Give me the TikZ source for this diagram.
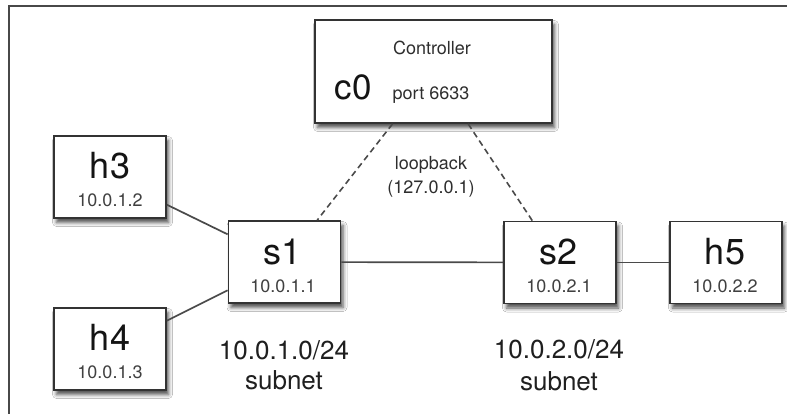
\documentclass[tikz,border=0pt]{standalone}
\usepackage{fontspec}
\setmainfont{TeX Gyre Heros}
\usetikzlibrary{shadows.blur}

\definecolor{edgegray}{HTML}{333333}
\definecolor{linkgray}{HTML}{4A4A4A}
\definecolor{ipgray}{HTML}{404040}
\definecolor{framegray}{HTML}{484848}

\tikzset{
  hostbox/.style={draw=edgegray, line width=1.8pt, fill=white,
    minimum width=112pt, minimum height=82pt, inner sep=0pt,
    blur shadow={shadow xshift=2.5pt, shadow yshift=-4.5pt,
      shadow blur radius=4pt, shadow opacity=70}},
  ctrlbox/.style={hostbox, minimum width=237pt, minimum height=103pt},
  bigname/.style={anchor=base, inner sep=0pt, text=black!92,
    font=\fontsize{36}{36}\selectfont},
  ipaddr/.style={anchor=base, inner sep=0pt, text=ipgray,
    font=\fontsize{18}{18}\selectfont},
  smalltext/.style={anchor=base, inner sep=0pt, text=black!82,
    font=\fontsize{18}{18}\selectfont},
  subnetlbl/.style={anchor=base, inner sep=0pt, text=black!88,
    font=\fontsize{26}{26}\selectfont},
  link/.style={draw=linkgray, line width=1.7pt},
  ctrllink/.style={draw=linkgray, line width=1.6pt, dash pattern=on 6pt off 4pt},
}

\begin{document}
\begin{tikzpicture}[x=1pt, y=-1pt]
  \useasboundingbox (0,0) rectangle (787,414);
  \fill[white] (0,0) rectangle (787,414);

  % outer frame (runs off the right and bottom edges)
  \draw[framegray, line width=2.6pt] (9,420) -- (9,6) -- (800,6);

  % boxes
  \node[ctrlbox] (c0) at (433.5,71.5) {};
  \node[hostbox] (h3) at (110,177) {};
  \node[hostbox] (h4) at (110,349) {};
  \node[hostbox] (s1) at (284.5,262) {};
  \node[hostbox] (s2) at (560,262.5) {};
  \node[hostbox] (h5) at (726,262.5) {};

  % links
  \path[link] (h3) -- (s1);
  \path[link] (h4) -- (s1);
  \path[link] (s1) -- (s2);
  \path[link] (s2) -- (h5);
  \path[ctrllink] (c0) -- (s1);
  \path[ctrllink] (c0) -- (s2);

  % controller text
  \node[smalltext] (ctrlname) at (432,55) {Controller};
  \node[bigname, font=\fontsize{35}{35}\selectfont] (c0name) at (353,100) {c0};
  \node[smalltext] (ctrlport) at (431,100) {port 6633};

  % loopback label
  \node[smalltext] (lb1) at (431,170) {loopback};
  \node[smalltext] (lb2) at (431,194) {(127.0.0.1)};

  % host and switch labels
  \node[bigname] (h3name) at (110,179) {h3};
  \node[ipaddr] (h3ip) at (110,207) {10.0.1.2};
  \node[bigname] (h4name) at (110,350) {h4};
  \node[ipaddr] (h4ip) at (110,378) {10.0.1.3};
  \node[bigname] (s1name) at (283,265) {s1};
  \node[ipaddr] (s1ip) at (283,292) {10.0.1.1};
  \node[bigname] (s2name) at (559,265) {s2};
  \node[ipaddr] (s2ip) at (559,292) {10.0.2.1};
  \node[bigname] (h5name) at (725,265) {h5};
  \node[ipaddr] (h5ip) at (725,292) {10.0.2.2};

  % subnet labels
  \node[subnetlbl] (net1) at (284,359) {10.0.1.0/24};
  \node[subnetlbl] (net1b) at (284,389) {subnet};
  \node[subnetlbl] (net2) at (559,358) {10.0.2.0/24};
  \node[subnetlbl] (net2b) at (559,390) {subnet};
\end{tikzpicture}
\end{document}
